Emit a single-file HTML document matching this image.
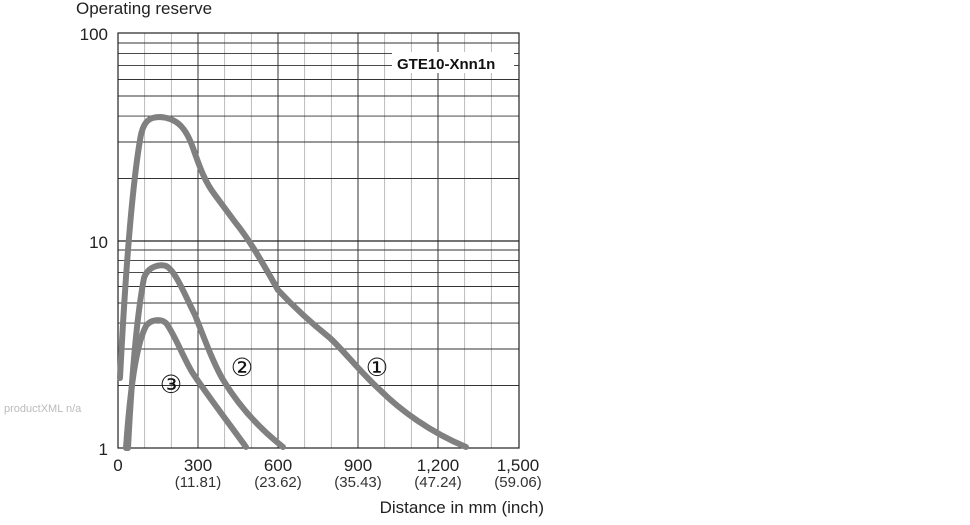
<!DOCTYPE html>
<html><head><style>
body{margin:0;background:#fff;width:970px;height:520px;overflow:hidden;font-family:"Liberation Sans",sans-serif}
</style></head><body>
<svg width="970" height="520" xmlns="http://www.w3.org/2000/svg" font-family="Liberation Sans, DejaVu Sans, sans-serif">
<g stroke="#aaa" stroke-width="0.8">
<line x1="144.67" y1="33" x2="144.67" y2="448"/><line x1="171.33" y1="33" x2="171.33" y2="448"/>
<line x1="224.67" y1="33" x2="224.67" y2="448"/><line x1="251.33" y1="33" x2="251.33" y2="448"/>
<line x1="304.67" y1="33" x2="304.67" y2="448"/><line x1="331.33" y1="33" x2="331.33" y2="448"/>
<line x1="384.67" y1="33" x2="384.67" y2="448"/><line x1="411.33" y1="33" x2="411.33" y2="448"/>
<line x1="464.67" y1="33" x2="464.67" y2="448"/><line x1="491.33" y1="33" x2="491.33" y2="448"/>
</g>
<g stroke="#333" stroke-width="1">
<line x1="198" y1="33" x2="198" y2="448"/><line x1="278" y1="33" x2="278" y2="448"/>
<line x1="358" y1="33" x2="358" y2="448"/><line x1="438" y1="33" x2="438" y2="448"/>
</g>
<g stroke="#333" stroke-width="0.9">
<line x1="118" y1="178.5" x2="519" y2="178.5"/><line x1="118" y1="142" x2="519" y2="142"/>
<line x1="118" y1="116.1" x2="519" y2="116.1"/><line x1="118" y1="96" x2="519" y2="96"/>
<line x1="118" y1="79.5" x2="519" y2="79.5"/><line x1="118" y1="65.6" x2="519" y2="65.6"/>
<line x1="118" y1="53.6" x2="519" y2="53.6"/><line x1="118" y1="43" x2="519" y2="43"/>
<line x1="118" y1="385.5" x2="519" y2="385.5"/><line x1="118" y1="349" x2="519" y2="349"/>
<line x1="118" y1="323.1" x2="519" y2="323.1"/><line x1="118" y1="303" x2="519" y2="303"/>
<line x1="118" y1="286.5" x2="519" y2="286.5"/><line x1="118" y1="272.6" x2="519" y2="272.6"/>
<line x1="118" y1="260.6" x2="519" y2="260.6"/><line x1="118" y1="250" x2="519" y2="250"/>
<line x1="118" y1="241" x2="519" y2="241" stroke="#222" stroke-width="1.2"/>
</g>
<rect x="118" y="33" width="401" height="415" fill="none" stroke="#222" stroke-width="1.2"/>
<rect x="392" y="52" width="122" height="21" fill="#fff"/>
<text x="397" y="69" font-size="15" font-weight="bold" fill="#111">GTE10-Xnn1n</text>
<g fill="none" stroke="#808080" stroke-width="6" stroke-linecap="round" stroke-linejoin="round">
<path d="M120,378 C124,300 130,200 140,140 C143,120 150,117 160,117 C175,118 185,125 193,148 C200,168 205,182 215,195 L235,222 C248,238 260,258 278,290 C292,305 310,322 330,338 C345,352 360,372 380,390 C400,410 430,432 466,447"/>
<path d="M128,448 C131,390 136,320 144,278 C148,266 160,264 166,266 C175,270 185,295 195,315 C203,335 212,360 222,378 C235,400 255,425 283,447"/>
<path d="M126,448 C130,390 136,345 146,326 C150,320 160,318 166,323 C175,335 182,355 192,372 C205,392 225,418 246,447"/>
</g>
<g font-size="25" fill="#111" text-anchor="middle" font-family="DejaVu Sans, sans-serif">
<text x="377" y="376">①</text><text x="242" y="376">②</text><text x="171" y="393">③</text>
</g>
<g font-size="17" fill="#222">
<text x="76" y="14">Operating reserve</text>
<text x="108" y="40" text-anchor="end">100</text>
<text x="108" y="248" text-anchor="end">10</text>
<text x="108" y="455" text-anchor="end">1</text>
</g>
<g font-size="17" fill="#222" text-anchor="middle">
<text x="118" y="471">0</text>
<text x="198" y="471">300</text><text x="278" y="471">600</text><text x="358" y="471">900</text><text x="438" y="471">1,200</text><text x="518" y="471">1,500</text>
</g>
<g font-size="15" fill="#333" text-anchor="middle">
<text x="198" y="487">(11.81)</text><text x="278" y="487">(23.62)</text><text x="358" y="487">(35.43)</text><text x="438" y="487">(47.24)</text><text x="518" y="487">(59.06)</text>
</g>
<text x="544" y="513" font-size="17" fill="#222" text-anchor="end">Distance in mm (inch)</text>
<text x="4" y="412" font-size="11" fill="#bbb">productXML n/a</text>
</svg>
</body></html>
